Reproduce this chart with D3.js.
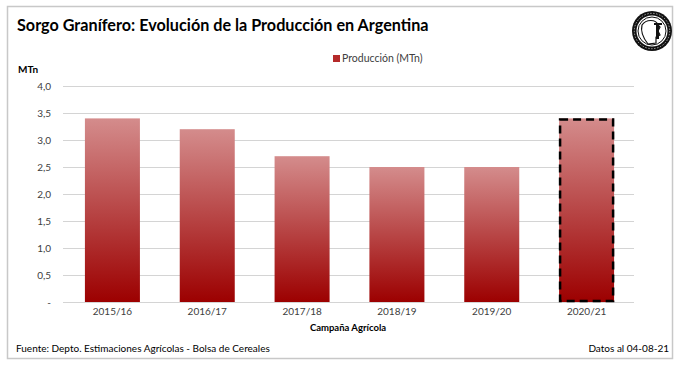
<!DOCTYPE html>
<html><head><meta charset="utf-8">
<script src="https://cdn.jsdelivr.net/npm/d3@7"></script>
<style>body{margin:0;background:#fff;} svg{display:block;font-family:Lato,"Open Sans",sans-serif;}</style>
</head><body>
<svg id="c" width="682" height="367"></svg>
<script>
const categories = ["2015/16","2016/17","2017/18","2018/19","2019/20","2020/21"];
const production = [3.4, 3.2, 2.7, 2.5, 2.5, 3.4];
const yTicks = [0, 0.5, 1.0, 1.5, 2.0, 2.5, 3.0, 3.5, 4.0];
const highlighted = ["2020/21"];

const svg = d3.select("#c");
svg.append("rect").attr("x",7.5).attr("y",6.5).attr("width",665).attr("height",352)
  .attr("fill","#fff").attr("stroke","#c8c8c8").attr("stroke-width",1.5);

const defs = svg.append("defs");
const g = defs.append("linearGradient").attr("id","bg").attr("x1",0).attr("y1",0).attr("x2",0).attr("y2",1);
g.append("stop").attr("offset","0%").attr("stop-color","#d48c8c");
g.append("stop").attr("offset","100%").attr("stop-color","#9c0000");

svg.append("text").attr("x",17).attr("y",31).attr("font-size",16.2).attr("font-weight","bold")
  .attr("fill","#000").text("Sorgo Granífero: Evolución de la Producción en Argentina");

// logo
const logo = svg.append("g").attr("transform","translate(652,31)");
logo.append("circle").attr("r",20).attr("fill","#111");
logo.append("circle").attr("r",15.5).attr("fill","#fff");
logo.append("circle").attr("r",14).attr("fill","none").attr("stroke","#111").attr("stroke-width",1);
logo.append("path").attr("d","M-10,-6 C-6,-12 4,-12 6,-6 L8,-4 L6,0 L8,4 L4,6 L4,12 L-4,13 C-8,8 -12,2 -10,-6Z").attr("fill","#fff").attr("stroke","#111").attr("stroke-width",1.2);
logo.append("path").attr("d","M2,-8 L10,-8 L10,-6 L7,-6 L7,8 L4,8 L4,-6 L2,-6Z").attr("fill","#111");
logo.append("circle").attr("r",17.7).attr("fill","none").attr("stroke","#fff").attr("stroke-width",0.6).attr("stroke-dasharray","1.5,1.5");

const x = d3.scaleBand().domain(categories).range([65,634]).paddingInner(0.42).paddingOuter(0.21);
const y = d3.scaleLinear().domain([0,4]).range([302,86]);

// grid
svg.append("g").selectAll("line").data(yTicks).join("line")
  .attr("x1",63).attr("x2",634).attr("y1",d=>Math.round(y(d))+0.5).attr("y2",d=>Math.round(y(d))+0.5)
  .attr("stroke","#d4d4d4").attr("stroke-width",1);

// y axis labels
const yAxis = d3.axisLeft(y).tickValues(yTicks).tickSize(0).tickPadding(0)
  .tickFormat(d=> d===0 ? "-" : d3.format(".1f")(d).replace(".",","));
const ya = svg.append("g").attr("transform","translate(51,0)").call(yAxis);
ya.select(".domain").remove();
ya.selectAll("text").attr("font-size",10).attr("fill","#404040").attr("font-family","Lato,sans-serif");

svg.append("text").attr("x",18).attr("y",73).attr("font-size",10).attr("font-weight","bold").attr("fill","#000").text("MTn");

// bars
svg.append("g").selectAll("rect").data(categories).join("rect")
  .attr("x",d=>x(d)).attr("y",(d,i)=>y(production[i])).attr("width",x.bandwidth())
  .attr("height",(d,i)=>y(0)-y(production[i])).attr("fill","url(#bg)");

svg.append("g").selectAll("rect").data(highlighted).join("rect")
  .attr("x",d=>x(d)+1).attr("y",d=>y(production[categories.indexOf(d)])+1)
  .attr("width",x.bandwidth()-2).attr("height",d=>y(0)-y(production[categories.indexOf(d)])-2)
  .attr("fill","none").attr("stroke","#000").attr("stroke-width",2.5).attr("stroke-dasharray","8,5");

// x axis
const xAxis = d3.axisBottom(x).tickSize(0).tickPadding(0);
const xa = svg.append("g").attr("transform","translate(0,308)").call(xAxis);
xa.select(".domain").remove();
xa.selectAll("text").attr("font-size",10).attr("fill","#404040").attr("font-family","Lato,sans-serif").attr("dy","0.71em");

svg.append("text").attr("x",348).attr("y",331).attr("text-anchor","middle").attr("font-size",9.5)
  .attr("font-weight","bold").attr("fill","#000").text("Campaña Agrícola");

// legend
svg.append("rect").attr("x",333).attr("y",55).attr("width",7).attr("height",7).attr("fill","#b52a2a");
svg.append("text").attr("x",342).attr("y",62).attr("font-size",10.5).attr("fill","#404040").text("Producción (MTn)");

// footer
svg.append("text").attr("x",16).attr("y",352).attr("font-size",10).attr("fill","#000").text("Fuente: Depto. Estimaciones Agrícolas - Bolsa de Cereales");
svg.append("text").attr("x",669).attr("y",352).attr("text-anchor","end").attr("font-size",10).attr("fill","#000").text("Datos al 04-08-21");
</script>
</body></html>
